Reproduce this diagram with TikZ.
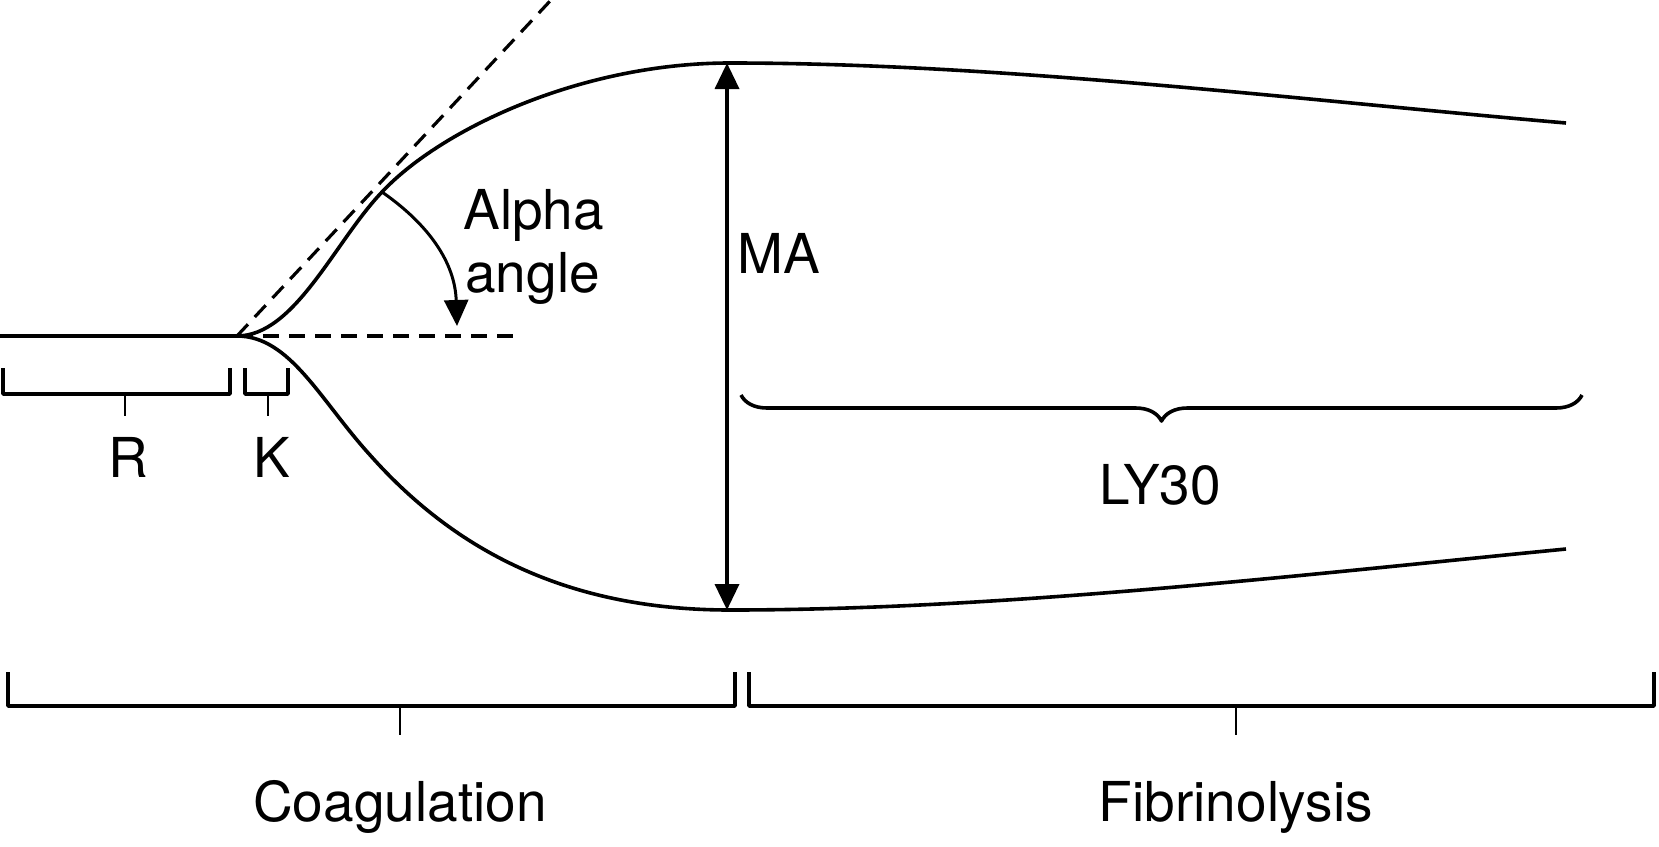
\documentclass[tikz,border=0pt]{standalone}
\usepackage{fontspec}
\setmainfont{TeX Gyre Heros}
\usetikzlibrary{arrows.meta,decorations.pathreplacing}

\begin{document}
\begin{tikzpicture}[x=0.5pt,y=-0.5pt]
    \useasboundingbox (0,0) rectangle (1659,846);

    % points of the trace
    \coordinate (start) at (0,336);
    \coordinate (onset) at (237,336);
    \coordinate (tangent) at (382,192);
    \coordinate (top) at (727,63);
    \coordinate (bottom) at (727,610);
    \coordinate (endtop) at (1566,123);
    \coordinate (endbot) at (1566,549);
    \coordinate (flatend) at (515,336);
    \coordinate (slopeend) at (551,0);
    \coordinate (angletip) at (457,326);

    \begin{scope}[every node/.style={font=\fontsize{27.5}{32}\selectfont,anchor=base,inner sep=0pt}]
        \node (R) at (128,477) {R};
        \node (K) at (272,477) {K};
        \node[anchor=base west] (MA) at (737,273) {MA};
        \node[anchor=base west] (alpha) at (463,229) {Alpha};
        \node[anchor=base west] (angle) at (465,292) {angle};
        \node (LY) at (1160,504) {LY30};
        \node (coag) at (400,821) {Coagulation};
        \node (fibr) at (1236,821) {Fibrinolysis};
    \end{scope}

    \begin{scope}[>={Triangle[width=12pt,length=13pt]},
                  line width=1.8pt, line join=round]
        % trace
        \draw (start) -- (onset);
        \draw (onset) .. controls (295,336) and (335,241) .. (tangent)
              .. controls (440,130) and (580,63) .. (730,63)
              .. controls (1000,63) and (1300,100) .. (endtop);
        \draw (onset) .. controls (290,336) and (320,400) .. (370,455)
              .. controls (450,545) and (560,610) .. (730,610)
              .. controls (1000,610) and (1300,575) .. (endbot);
        \draw[line width=1.6pt, dash pattern=on 8pt off 5pt] (onset) -- (flatend);
        \draw[line width=1.6pt, dash pattern=on 8pt off 5pt] (onset) -- (slopeend);
        % alpha angle and MA
        \draw[->, line width=1.5pt] (tangent) .. controls (428,224) and (455,262) .. (angletip);
        \draw[<->] (top) -- (bottom);
        % LY30
        \draw[decorate, decoration={brace, mirror, amplitude=13pt, aspect=0.5}]
              (741,395) -- (1582,395);
        % R and K
        \draw (3,368) |- (230,394) -- (230,368);
        \draw[line width=1.4pt] (125,394) -- (125,416);
        \draw (245,368) |- (288,394) -- (288,368);
        \draw[line width=1.4pt] (268,394) -- (268,416);
        % phases
        \draw (8,672) |- (735,706) -- (735,672);
        \draw[line width=1.4pt] (400,706) -- (400,735);
        \draw (749,672) |- (1654,706) -- (1654,672);
        \draw[line width=1.4pt] (1236,706) -- (1236,735);
    \end{scope}
\end{tikzpicture}
\end{document}
